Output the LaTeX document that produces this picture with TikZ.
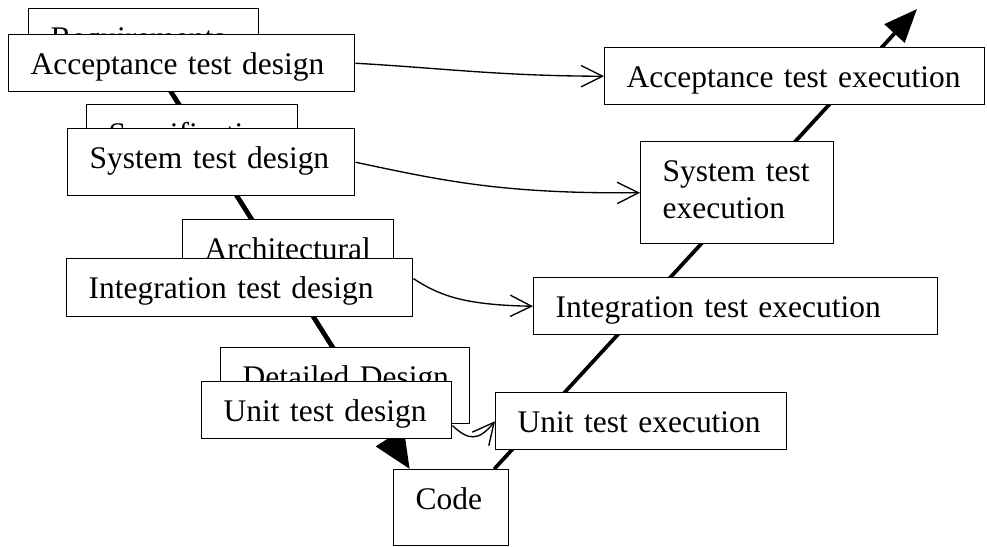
\documentclass[tikz,border=0pt]{standalone}
\usepackage{fontspec}
\setmainfont{Liberation Serif}
\usetikzlibrary{arrows.meta,backgrounds}

\begin{document}
\begin{tikzpicture}[x=0.75pt, y=-0.75pt,
	box/.style 2 args={draw, fill=white, line width=1.1pt, anchor=north west,
		inner xsep=16.5pt, inner ysep=0pt, text width=#1, text height=29.6pt,
		text depth=#2, align=left, font=\fontsize{23.6pt}{27.75pt}\selectfont},
	leg/.style={line width=2.8pt, -{Triangle[length=25pt,width=20pt]}},
	link/.style={line width=1pt, -{Straight Barb[length=16pt,width=16pt]}}]

	\useasboundingbox (0,0) rectangle (987,546);

	% development phases (behind)
	\node[box={139.5pt}{30.4pt}] (req) at (28,8) {Requirements};
	\node[box={125.25pt}{34.9pt}] (spec) at (86,104) {Specification};
	\node[box={125.25pt}{41.65pt}] (arch) at (182,219) {Architectural};
	\node[box={153.75pt}{27.4pt}] (ddes) at (220,347) {\mbox{Detailed Design}};

	% test design
	\node[box={226.5pt}{13.15pt}] (atd) at (8,34) {Acceptance test design};
	\node[box={182.25pt}{20.65pt}] (std) at (67,128) {System test design};
	\node[box={226.5pt}{13.9pt}] (itd) at (66,258) {Integration test design};
	\node[box={154.5pt}{13.15pt}] (utd) at (201,381) {Unit test design};

	\node[box={53.25pt}{27.4pt}] (code) at (393,469) {Code};

	% test execution
	\node[box={185.25pt}{13.15pt}] (ute) at (495,392) {Unit test execution};
	\node[box={270pt}{13.15pt}] (ite) at (533,277) {Integration test execution};
	\node[box={111.75pt}{46.9pt}] (ste) at (640,141) {System test\\execution};
	\node[box={252pt}{13.15pt}] (ate) at (604,47) {Acceptance test execution};

	\coordinate (vtop) at (917,9);

	% the V
	\begin{scope}[on background layer]
		\draw[leg, line width=3.6pt, -{Triangle[length=28pt,width=24pt]}] (req.center) -- (code.137);
		\draw[leg] (code.42.5) -- (vtop);
	\end{scope}

	\draw[link] (atd.east) .. controls (440,68) and (500,76) .. (ate.west);
	\draw[link] (std.east) .. controls (440,180) and (500,194) .. (ste.west);
	\draw[link] (itd.3) .. controls (440,296) and (465,305) .. (ite.west);
	\draw[link] (utd.-7) .. controls (468,440) and (478,442) .. (ute.west);

\end{tikzpicture}
\end{document}
